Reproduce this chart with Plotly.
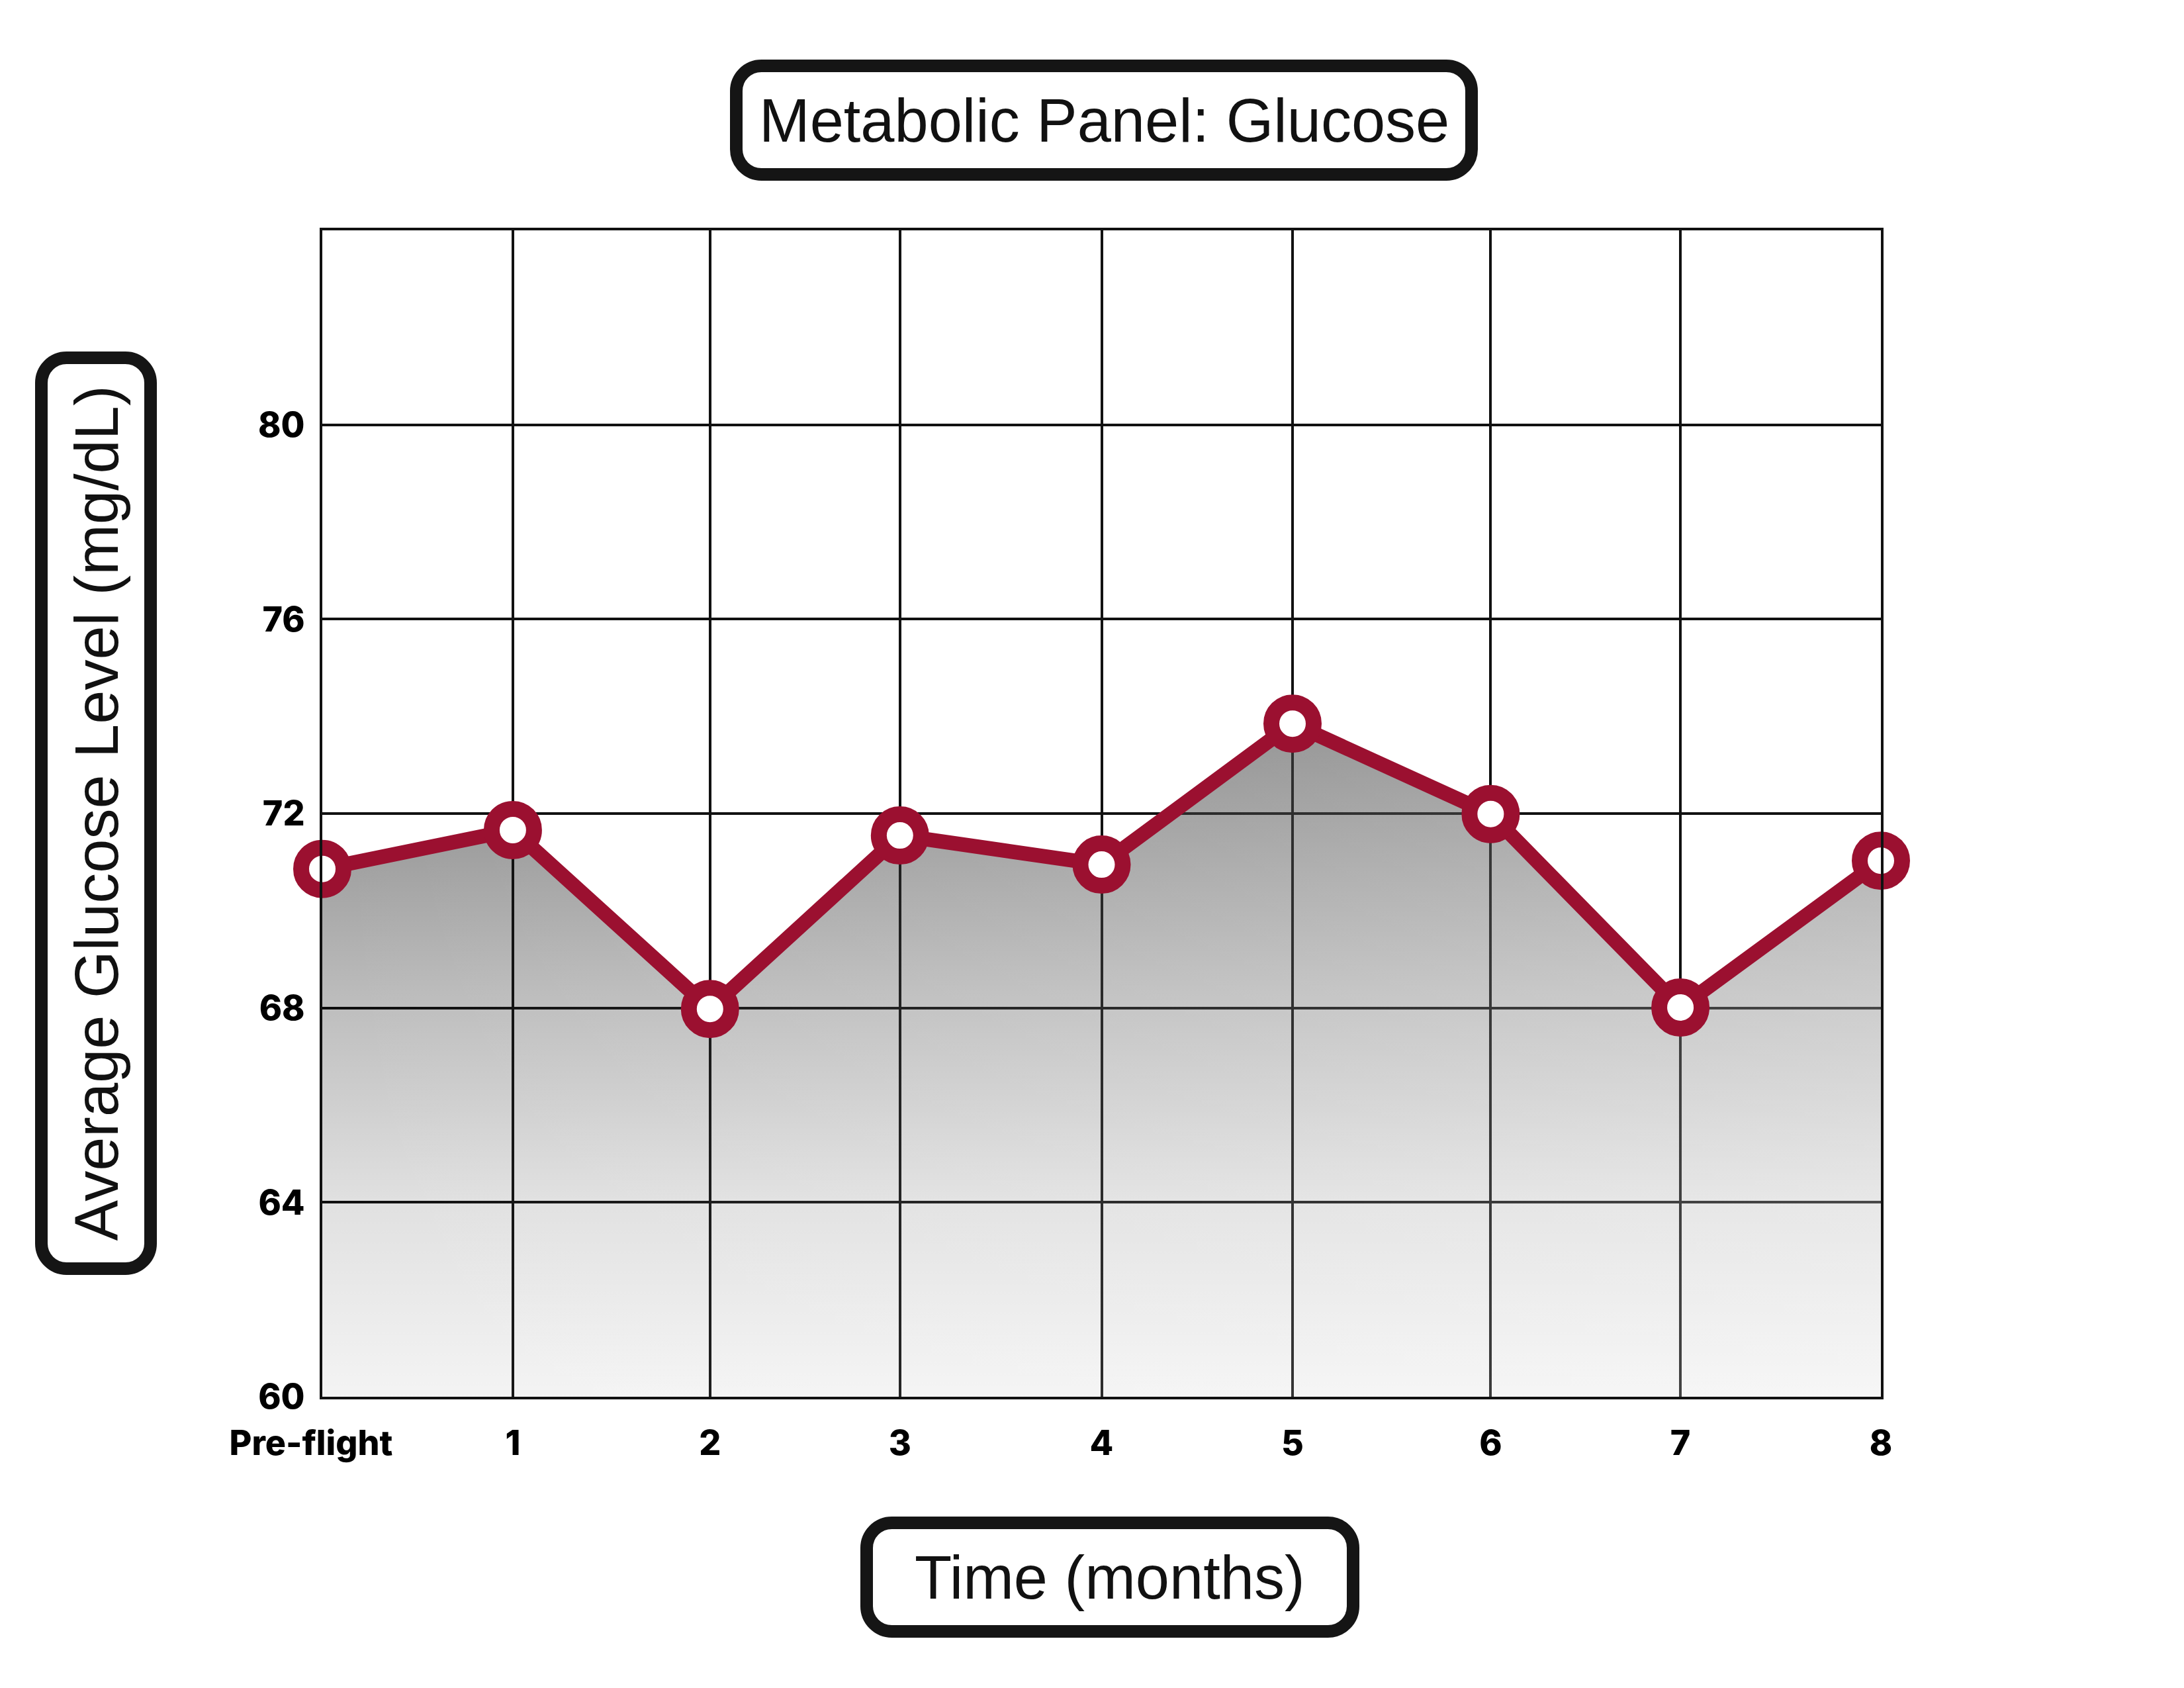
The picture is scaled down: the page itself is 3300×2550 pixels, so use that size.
import plotly.graph_objects as go

# ---- data ----
month_labels = ["Pre-flight", "1", "2", "3", "4", "5", "6", "7", "8"]
month_pos = [0, 0.978, 1.99, 2.965, 4.0, 4.98, 5.997, 6.971, 8]
glucose = [70.86, 71.66, 67.98, 71.55, 70.95, 73.85, 71.99, 68.01, 71.03]
y_ticks = [60, 64, 68, 72, 76, 80]
y_range = [60, 84]

title_text = "Metabolic Panel: Glucose"
x_title_text = "Time (months)"
y_title_text = "Average Glucose Level (mg/dL)"

# ---- layout geometry (target positions are in screenshot pixels) ----
W, H = 3300, 2550
OFF = 8  # page body margin of the exported html
PLOT_L, PLOT_R, PLOT_T, PLOT_B = 487, 2842, 348, 2110
ML, MT = PLOT_L - OFF, PLOT_T - OFF
MR, MB = W - (PLOT_R - OFF), H - (PLOT_B - OFF)
PW, PH = W - ML - MR, H - MT - MB

def px_x(px):
    return (px - OFF - ML) / PW

def px_y(py):
    return (H - MB - (py - OFF)) / PH

def rounded_rect(w, h, r):
    k = 0.5523 * r
    x0, x1, y0, y1 = -w / 2, w / 2, -h / 2, h / 2
    return (
        f"M {x0 + r},{y0} L {x1 - r},{y0} "
        f"C {x1 - r + k},{y0} {x1},{y0 + r - k} {x1},{y0 + r} "
        f"L {x1},{y1 - r} "
        f"C {x1},{y1 - r + k} {x1 - r + k},{y1} {x1 - r},{y1} "
        f"L {x0 + r},{y1} "
        f"C {x0 + r - k},{y1} {x0},{y1 - r + k} {x0},{y1 - r} "
        f"L {x0},{y0 + r} "
        f"C {x0},{y0 + r - k} {x0 + r - k},{y0} {x0 + r},{y0} Z"
    )

LINE_COLOR = "#9b1030"
TEXT_FONT = dict(family="Liberation Sans, Arial, sans-serif", size=92, color="#111111")
TICK_FONT = dict(family="Inter, Lato, sans-serif", size=52, color="#000000", weight=800)

y_lo, y_hi = y_range[0], max(glucose)
def frac(v):
    return (v - y_lo) / (y_hi - y_lo)

fig = go.Figure()
# vertical shading (darker toward the top)
fig.add_trace(go.Scatter(
    x=month_pos, y=glucose, mode="lines", fill="tozeroy",
    line=dict(width=0, color="rgba(0,0,0,0)"),
    fillgradient=dict(
        type="vertical", start=y_lo, stop=y_hi,
        colorscale=[
            [0, "rgba(0,0,0,0.045)"],
            [frac(64), "rgba(0,0,0,0.12)"],
            [frac(68), "rgba(0,0,0,0.255)"],
            [frac(72), "rgba(0,0,0,0.41)"],
            [1, "rgba(0,0,0,0.48)"],
        ],
    ),
    showlegend=False, hoverinfo="skip",
))
# horizontal lightening (lighter toward the right)
fig.add_trace(go.Scatter(
    x=month_pos, y=glucose, mode="lines", fill="tozeroy",
    line=dict(width=0, color="rgba(0,0,0,0)"),
    fillgradient=dict(
        type="horizontal", start=month_pos[0], stop=month_pos[-1],
        colorscale=[[0, "rgba(255,255,255,0)"], [1, "rgba(255,255,255,0.24)"]],
    ),
    showlegend=False, hoverinfo="skip",
))
# line + markers
fig.add_trace(go.Scatter(
    x=month_pos, y=glucose, mode="lines+markers",
    line=dict(color=LINE_COLOR, width=22),
    marker=dict(size=64, color="white", line=dict(color=LINE_COLOR, width=24)),
    cliponaxis=False,
    showlegend=False, hoverinfo="skip",
))

tick_text = [month_labels[0] + "\u00a0\u00a0\u00a0"] + month_labels[1:]

fig.update_xaxes(
    range=[month_pos[0], month_pos[-1]],
    tickvals=month_pos,
    ticktext=tick_text,
    tickfont=TICK_FONT,
    showgrid=True, gridcolor="#111111", gridwidth=3.5,
    showline=True, mirror=True, linecolor="#111111", linewidth=4,
    zeroline=False, ticks="", ticklabelstandoff=22,
)
fig.update_yaxes(
    range=y_range,
    tickvals=y_ticks,
    tickfont=TICK_FONT,
    showgrid=True, gridcolor="#111111", gridwidth=3.5,
    showline=True, mirror=True, linecolor="#111111", linewidth=4,
    zeroline=False, ticks="", ticklabelstandoff=12,
)

box_line = dict(color="#151515", width=19)
boxes = [
    # (center x px, center y px, width, height)
    (1668, 181.5, 1111, 164),
    (1677, 2382.5, 735, 164),
    (145, 1228.5, 165, 1376),
]
for cx, cy, bw, bh in boxes:
    fig.add_shape(
        type="path", xref="paper", yref="paper",
        xsizemode="pixel", ysizemode="pixel",
        xanchor=px_x(cx), yanchor=px_y(cy),
        path=rounded_rect(bw, bh, 38),
        line=box_line, fillcolor="white", layer="above",
    )

fig.add_annotation(text=title_text, x=px_x(1668), y=px_y(181.5), xref="paper", yref="paper",
                   xanchor="center", yanchor="middle", showarrow=False, font=TEXT_FONT)
fig.add_annotation(text=x_title_text, x=px_x(1677), y=px_y(2382.5), xref="paper", yref="paper",
                   xanchor="center", yanchor="middle", showarrow=False, font=TEXT_FONT)
fig.add_annotation(text=y_title_text, x=px_x(145), y=px_y(1228.5), xref="paper", yref="paper",
                   xanchor="center", yanchor="middle", showarrow=False, font=TEXT_FONT,
                   textangle=-90)

fig.update_layout(
    width=W, height=H,
    margin=dict(l=ML, r=MR, t=MT, b=MB, autoexpand=False),
    paper_bgcolor="white", plot_bgcolor="white",
    showlegend=False,
)

fig.write_html("out.html")
